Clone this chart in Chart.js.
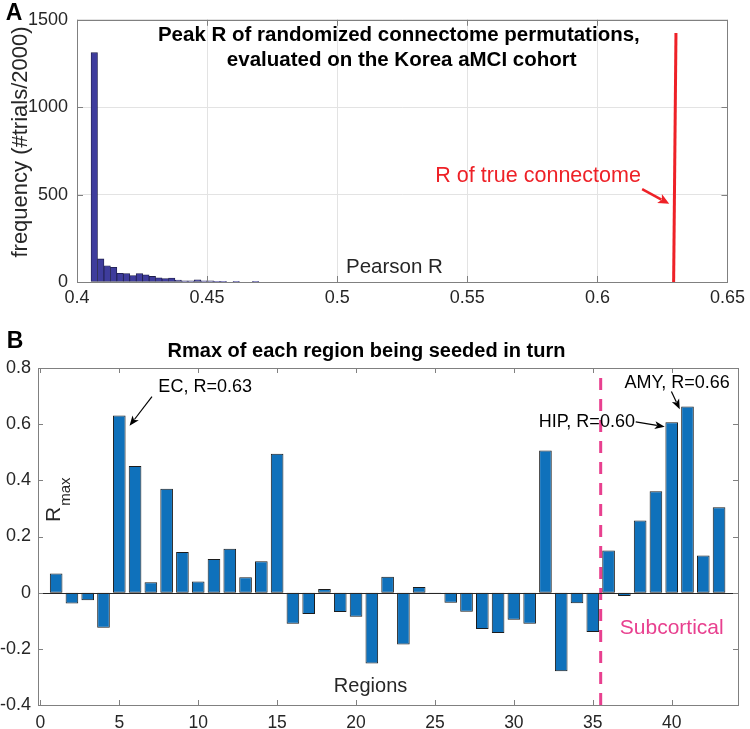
<!DOCTYPE html>
<html>
<head>
<meta charset="utf-8">
<script src="https://cdn.jsdelivr.net/npm/chart.js@4.4.0/dist/chart.umd.min.js"></script>
<style>
  html, body { margin: 0; padding: 0; background: #fff; }
  #wrap { position: relative; width: 750px; height: 729px; }
  #histo { position: absolute; left: 0; top: 0; }
  #regions { position: absolute; left: 0; top: 320px; }
</style>
</head>
<body>
<div id="wrap">
  <canvas id="histo" width="750" height="320"></canvas>
  <canvas id="regions" width="750" height="409"></canvas>
</div>
<script>
// --- DATA ---
// panel A: histogram of peak R for 2000 permutations
const binCenters = [0.40664, 0.40912, 0.41160, 0.41408, 0.41656, 0.41904, 0.42152, 0.42400,
  0.42648, 0.42896, 0.43144, 0.43392, 0.43640, 0.43888, 0.44136, 0.44384, 0.44632, 0.44880,
  0.45128, 0.45376, 0.45624, 0.45872, 0.46120, 0.46368, 0.46616, 0.46864, 0.47112, 0.47360];
const binCounts = [1312, 132, 93, 84, 50, 48, 37, 48, 41, 32, 24, 20, 22, 11, 6, 6, 13, 7,
  6, 4, 2, 0, 1, 0, 0, 1, 0, 0];
const trueRx = [0.6293, 0.6302];   // red line, bottom -> top
const trueRy = [0, 1425];
const histXTicks = [0.4, 0.45, 0.5, 0.55, 0.6, 0.65];
const histYTicks = [0, 500, 1000, 1500];

// panel B: Rmax per seeded region
const regionIdx = [1, 2, 3, 4, 5, 6, 7, 8, 9, 10, 11, 12, 13, 14, 15, 16, 17, 18, 19, 20, 21, 22,
  23, 24, 25, 26, 27, 28, 29, 30, 31, 32, 33, 34, 35, 36, 37, 38, 39, 40, 41, 42, 43];
const rmax = [0.068, -0.039, -0.027, -0.125, 0.631, 0.451, 0.037, 0.370, 0.145, 0.040,
  0.120, 0.156, 0.055, 0.112, 0.495, -0.111, -0.076, 0.013, -0.069, -0.086,
  -0.252, 0.057, -0.185, 0.020, -0.004, -0.036, -0.068, -0.129, -0.144, -0.096,
  -0.111, 0.506, -0.280, -0.038, -0.140, 0.150, -0.012, 0.257, 0.361, 0.607,
  0.663, 0.132, 0.304];
const subcorticalSplit = 35.5;
const regionXTicks = [0, 5, 10, 15, 20, 25, 30, 35, 40];
const regionYTicks = [-0.4, -0.2, 0, 0.2, 0.4, 0.6, 0.8];

// --- STYLE ---
const FONT = "'Liberation Sans', Arial, Helvetica, sans-serif";
const TXT = '#262626';
const AXIS = '#808080';
Chart.defaults.font.family = FONT;
Chart.defaults.color = TXT;

// box, inward ticks, texts and arrows (matlab look)
const decoPlugin = {
  id: 'deco',
  afterDraw(chart, args, opts) {
    const { ctx, chartArea: a, scales } = chart;
    const xs = scales.x, ys = scales.y;
    const X = v => xs.getPixelForValue(v);
    const Y = v => ys.getPixelForValue(v);
    ctx.save();

    if (opts.baseline) {
      const y0 = Math.round(Y(0)) + 0.5;
      ctx.strokeStyle = '#262626';
      ctx.lineWidth = 1;
      ctx.beginPath();
      ctx.moveTo(a.left, y0);
      ctx.lineTo(a.right, y0);
      ctx.stroke();
    }

    ctx.strokeStyle = AXIS;
    ctx.lineWidth = 1;
    ctx.strokeRect(Math.round(a.left) + 0.5, Math.round(a.top) + 0.5,
      Math.round(a.right - a.left), Math.round(a.bottom - a.top));

    const L = opts.tickLen || 6;
    ctx.beginPath();
    xs.ticks.forEach(t => {
      const px = Math.round(X(t.value)) + 0.5;
      ctx.moveTo(px, a.bottom); ctx.lineTo(px, a.bottom - L);
      ctx.moveTo(px, a.top); ctx.lineTo(px, a.top + L);
    });
    ys.ticks.forEach(t => {
      const py = Math.round(Y(t.value)) + 0.5;
      ctx.moveTo(a.left, py); ctx.lineTo(a.left + L, py);
      ctx.moveTo(a.right, py); ctx.lineTo(a.right - L, py);
    });
    ctx.stroke();

    (opts.arrows || []).forEach(ar => {
      const x1 = X(ar.from[0]), y1 = Y(ar.from[1]);
      const x2 = X(ar.to[0]), y2 = Y(ar.to[1]);
      const ang = Math.atan2(y2 - y1, x2 - x1);
      const hl = ar.head || 10, hw = ar.headW || 4;
      ctx.strokeStyle = ar.color;
      ctx.fillStyle = ar.color;
      ctx.lineWidth = ar.width || 1.2;
      ctx.beginPath();
      ctx.moveTo(x1, y1);
      ctx.lineTo(x2 - Math.cos(ang) * hl * 0.8, y2 - Math.sin(ang) * hl * 0.8);
      ctx.stroke();
      ctx.beginPath();
      ctx.moveTo(x2, y2);
      ctx.lineTo(x2 - Math.cos(ang) * hl - Math.sin(ang) * hw, y2 - Math.sin(ang) * hl + Math.cos(ang) * hw);
      ctx.lineTo(x2 - Math.cos(ang) * hl * 0.75, y2 - Math.sin(ang) * hl * 0.75);
      ctx.lineTo(x2 - Math.cos(ang) * hl + Math.sin(ang) * hw, y2 - Math.sin(ang) * hl - Math.cos(ang) * hw);
      ctx.closePath();
      ctx.fill();
    });

    (opts.texts || []).forEach(t => {
      const px = t.px !== undefined ? t.px : X(t.x);
      const py = t.py !== undefined ? t.py : Y(t.y);
      ctx.save();
      ctx.translate(px, py);
      if (t.rot) ctx.rotate(t.rot);
      ctx.font = (t.bold ? 'bold ' : '') + t.size + 'px ' + FONT;
      ctx.fillStyle = t.color || TXT;
      if (t.sub) {
        ctx.textAlign = 'left';
        ctx.textBaseline = 'alphabetic';
        ctx.fillText(t.text, 0, 0);
        const w = ctx.measureText(t.text).width;
        ctx.font = t.subSize + 'px ' + FONT;
        ctx.fillText(t.sub, w + 1, t.subDrop);
      } else {
        ctx.textAlign = t.align || 'center';
        ctx.textBaseline = 'middle';
        ctx.fillText(t.text, 0, 0);
      }
      ctx.restore();
    });
    ctx.restore();
  }
};

function fixTicks(list) {
  return scale => { scale.ticks = list.map(v => ({ value: v })); };
}

// --- PANEL A ---
new Chart(document.getElementById('histo'), {
  data: {
    datasets: [{
      type: 'bar',
      data: binCenters.map((c, i) => ({ x: c, y: binCounts[i] })),
      backgroundColor: '#3e3c9c',
      borderColor: '#1e1e4a',
      borderWidth: 0.8,
      borderSkipped: false,
      barPercentage: 1,
      categoryPercentage: 1
    }, {
      type: 'line',
      data: trueRx.map((v, i) => ({ x: v, y: trueRy[i] })),
      borderColor: '#ee2127',
      borderWidth: 3,
      pointRadius: 0
    }]
  },
  options: {
    responsive: false,
    animation: false,
    layout: { padding: { left: 0, top: 13, right: 18, bottom: 0 } },
    plugins: {
      legend: { display: false },
      tooltip: { enabled: false },
      deco: {
        tickLen: 6,
        texts: [
          { text: 'Peak R of randomized connectome permutations,', x: 0.5237, y: 1411, size: 20.5, bold: true, color: '#000' },
          { text: 'evaluated on the Korea aMCI cohort', x: 0.5248, y: 1266, size: 20.5, bold: true, color: '#000' },
          { text: 'R of true connectome', x: 0.5772, y: 608, size: 21.5, color: '#ee2127' },
          { text: 'Pearson R', x: 0.5220, y: 86, size: 20.5 },
          { text: 'frequency (#trials/2000)', px: 21, py: 142, size: 22, rot: -Math.PI / 2 },
          { text: 'A', px: 14, py: 14, size: 23, bold: true, color: '#000' }
        ],
        arrows: [
          { from: [0.6172, 531], to: [0.6276, 448], color: '#ee2127', width: 2.5, head: 11, headW: 5 }
        ]
      }
    },
    scales: {
      x: {
        type: 'linear',
        offset: false,
        min: 0.4, max: 0.65,
        afterBuildTicks: fixTicks(histXTicks),
        afterFit: s => { s.height = 38; },
        grid: { color: '#e3e3e3', drawTicks: false, offset: false },
        border: { display: false },
        ticks: { font: { size: 18 }, color: TXT, padding: 5, maxRotation: 0, callback: v => String(v) }
      },
      y: {
        min: 0, max: 1500,
        afterBuildTicks: fixTicks(histYTicks),
        afterFit: s => { s.width = 77; },
        grid: { color: '#e3e3e3', drawTicks: false },
        border: { display: false },
        ticks: { font: { size: 18 }, color: TXT, padding: 9, callback: v => String(v) }
      }
    }
  },
  plugins: [decoPlugin]
});

// --- PANEL B ---
new Chart(document.getElementById('regions'), {
  data: {
    datasets: [{
      type: 'bar',
      data: regionIdx.map((r, i) => ({ x: r, y: rmax[i] })),
      backgroundColor: '#0f71bb',
      borderColor: '#1c1c1c',
      borderWidth: 1,
      borderSkipped: false,
      barPercentage: 0.8,
      categoryPercentage: 1
    }, {
      type: 'line',
      data: [{ x: subcorticalSplit, y: -0.4 }, { x: subcorticalSplit, y: 0.8 }],
      borderColor: '#e8408f',
      borderWidth: 3,
      borderDash: [12, 9],
      pointRadius: 0
    }]
  },
  options: {
    responsive: false,
    animation: false,
    layout: { padding: { left: 0, top: 48, right: 12, bottom: 0 } },
    plugins: {
      legend: { display: false },
      tooltip: { enabled: false },
      deco: {
        tickLen: 5,
        baseline: true,
        texts: [
          { text: 'Rmax of each region being seeded in turn', px: 366.5, py: 31.5, size: 20, bold: true, color: '#000' },
          { text: 'EC, R=0.63', x: 10.44, y: 0.733, size: 18, color: '#000' },
          { text: 'HIP, R=0.60', x: 34.62, y: 0.608, size: 18, color: '#000' },
          { text: 'AMY, R=0.66', x: 40.35, y: 0.747, size: 18, color: '#000' },
          { text: 'Subcortical', x: 40.0, y: -0.127, size: 21, color: '#e8408f' },
          { text: 'Regions', x: 20.92, y: -0.333, size: 20 },
          { text: 'R', sub: 'max', px: 60, py: 202, size: 21, subSize: 15, subDrop: 10, rot: -Math.PI / 2 },
          { text: 'B', px: 15, py: 22, size: 23, bold: true, color: '#000' }
        ],
        arrows: [
          { from: [7.07, 0.698], to: [5.65, 0.594], color: '#000', width: 1.2, head: 10, headW: 4 },
          { from: [37.72, 0.608], to: [39.56, 0.591], color: '#000', width: 1.2, head: 10, headW: 4 },
          { from: [39.98, 0.716], to: [40.51, 0.653], color: '#000', width: 1.2, head: 10, headW: 4 }
        ]
      }
    },
    scales: {
      x: {
        type: 'linear',
        offset: false,
        min: -0.15, max: 44.2,
        afterBuildTicks: fixTicks(regionXTicks),
        afterFit: s => { s.height = 24; },
        grid: { display: false, drawTicks: false, offset: false },
        border: { display: false },
        ticks: { font: { size: 17.5 }, color: TXT, padding: 8, maxRotation: 0, callback: v => String(v) }
      },
      y: {
        min: -0.4, max: 0.8,
        afterBuildTicks: fixTicks(regionYTicks),
        afterFit: s => { s.width = 38; },
        grid: { display: false, drawTicks: false },
        border: { display: false },
        ticks: { font: { size: 18 }, color: TXT, padding: 7, callback: v => String(v) }
      }
    }
  },
  plugins: [decoPlugin]
});
</script>
</body>
</html>
